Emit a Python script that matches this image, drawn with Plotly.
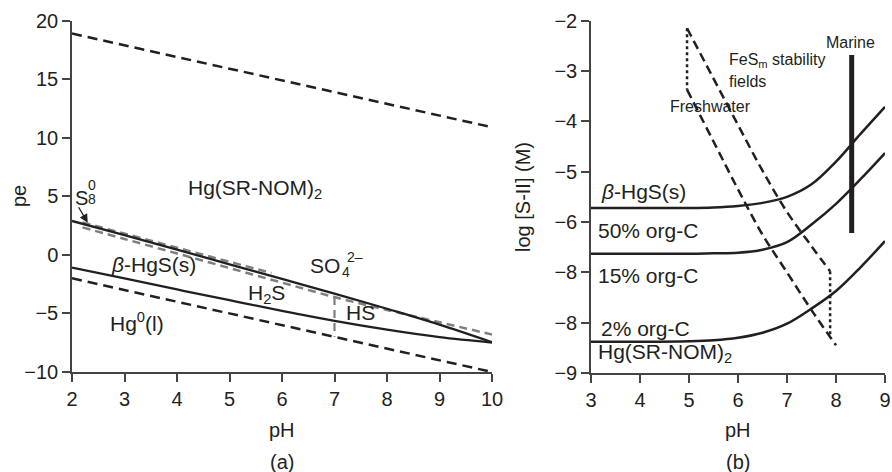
import plotly.graph_objects as go

# ---------------- Panel (a): pe-pH diagram ----------------
ph_water = [2, 10]
pe_water_upper = [18.9, 10.9]
pe_water_lower = [-2.0, -10.0]

ph_so4 = [2, 3, 4, 5, 6, 7, 8, 9, 10]
pe_so4 = [2.9, 1.68, 0.45, -0.8, -2.05, -3.3, -4.6, -5.95, -7.45]

ph_hgs = [2, 3, 4, 5, 6, 7, 8, 9, 10]
pe_hgs = [-1.08, -2.0, -2.95, -3.87, -4.78, -5.63, -6.38, -7.02, -7.48]

ph_gray_low = [2.2, 3, 4, 5, 6, 7, 8, 9, 10]
pe_gray_low = [2.35, 1.36, 0.12, -1.12, -2.37, -3.6, -4.7, -5.75, -6.8]

ph_gray_up = [2.2, 3, 4, 5, 5.8]
pe_gray_up = [2.78, 1.82, 0.6, -0.62, -1.55]

ph_h2s_hs = [7, 7]
pe_h2s_hs = [-3.6, -7.0]

# ---------------- Panel (b): log[S-II] vs pH ----------------
ph_b = [3, 4, 5, 5.5, 6, 6.5, 7, 7.5, 8, 8.5, 9]
log_hgs = [-5.72, -5.72, -5.72, -5.71, -5.68, -5.62, -5.5, -5.25, -4.8, -4.25, -3.71]
log_50 = [-6.63, -6.63, -6.63, -6.62, -6.61, -6.55, -6.4, -6.05, -5.64, -5.15, -4.63]
log_2 = [-8.38, -8.38, -8.37, -8.35, -8.3, -8.2, -8.02, -7.72, -7.37, -6.9, -6.38]

ph_fresh_dot = [4.96, 4.96]
log_fresh_dot = [-2.15, -3.37]
ph_fresh = [4.96, 5.5, 6.0, 6.5, 7.0, 7.5, 8.0]
log_fresh = [-3.37, -4.4, -5.35, -6.25, -7.0, -7.75, -8.45]

ph_fes = [4.96, 5.5, 6.0, 6.5, 7.0, 7.5, 7.88]
log_fes = [-2.15, -3.15, -4.07, -4.98, -5.8, -6.48, -6.98]
ph_fes_dot = [7.88, 7.88]
log_fes_dot = [-6.98, -8.3]

ph_marine = [8.32, 8.32]
log_marine = [-2.68, -6.22]

tick_a_x = [2, 3, 4, 5, 6, 7, 8, 9, 10]
tick_a_y = [-10, -5, 0, 5, 10, 15, 20]
tick_b_x = [3, 4, 5, 6, 7, 8, 9]
tick_b_y = [-9, -8, -7, -6, -5, -4, -3, -2]
tick_b_ytext = ["\u22129", "\u22128", "\u22128", "\u22126", "\u22125", "\u22124", "\u22123", "\u22122"]

BLACK = "#231f20"
GRAY = "#7f7f7f"
FONT = "Liberation Sans, Arial, sans-serif"

fig = go.Figure()


def add(x, y, xa, ya, color=BLACK, width=2.3, dash="solid", shape="linear"):
    fig.add_trace(go.Scatter(x=x, y=y, xaxis=xa, yaxis=ya, mode="lines",
                             line=dict(color=color, width=width, dash=dash, shape=shape),
                             hoverinfo="skip", showlegend=False))


# panel a
add(ph_water, pe_water_upper, "x", "y", dash="10px,6px", width=2.5)
add(ph_water, pe_water_lower, "x", "y", dash="10px,6px", width=2.5)
add(ph_gray_up, pe_gray_up, "x", "y", color=GRAY, dash="8px,5px", width=2.5)
add(ph_gray_low, pe_gray_low, "x", "y", color=GRAY, dash="8px,5px", width=2.5, shape="spline")
add(ph_h2s_hs, pe_h2s_hs, "x", "y", color=GRAY, dash="8px,5px", width=2.2)
add(ph_so4, pe_so4, "x", "y", shape="spline")
add(ph_hgs, pe_hgs, "x", "y", shape="spline")

# panel b
add(ph_b, log_hgs, "x2", "y2", shape="spline", width=2.5)
add(ph_b, log_50, "x2", "y2", shape="spline", width=2.5)
add(ph_b, log_2, "x2", "y2", shape="spline", width=2.5)
add(ph_fresh_dot, log_fresh_dot, "x2", "y2", dash="3px,3px", width=2.5)
add(ph_fresh, log_fresh, "x2", "y2", dash="9px,5px", width=2.5, shape="spline")
add(ph_fes, log_fes, "x2", "y2", dash="9px,5px", width=2.5, shape="spline")
add(ph_fes_dot, log_fes_dot, "x2", "y2", dash="3px,3px", width=2.5)
add(ph_marine, log_marine, "x2", "y2", width=5)

axis_common = dict(showline=True, linecolor="#444", linewidth=1.5, ticks="outside",
                   ticklen=8, tickwidth=1.5, tickcolor="#444", showgrid=False,
                   zeroline=False, tickfont=dict(family=FONT, size=20, color=BLACK),
                   fixedrange=True, automargin=False)

fig.update_layout(
    width=892, height=472, margin=dict(l=0, r=0, t=0, b=0, autoexpand=False),
    paper_bgcolor="white", plot_bgcolor="white",
    xaxis=dict(domain=[72 / 892, 492 / 892], range=[2, 10], tickvals=tick_a_x,
               anchor="y", **axis_common),
    yaxis=dict(domain=[1 - 372 / 472, 1 - 20.7 / 472], range=[-10, 20], tickvals=tick_a_y,
               anchor="x", **axis_common),
    xaxis2=dict(domain=[591 / 892, 885 / 892], range=[3, 9], tickvals=tick_b_x,
                anchor="y2", **axis_common),
    yaxis2=dict(domain=[1 - 373 / 472, 1 - 20.7 / 472], range=[-9, -2], tickvals=tick_b_y,
                ticktext=tick_b_ytext, anchor="x2", **axis_common),
)


def label(text, x, y, xref, yref, size=20, xanchor="center", yanchor="middle", angle=0):
    fig.add_annotation(text=text, x=x, y=y, xref=xref, yref=yref, showarrow=False,
                       xanchor=xanchor, yanchor=yanchor, textangle=angle,
                       font=dict(family=FONT, size=size, color=BLACK))


# panel a labels
label("Hg(SR-NOM)<sub>2</sub>", 5.49, 5.6, "x", "y", size=21)
label("S", 2.02, 4.9, "x", "y", size=20, xanchor="left")
label("0", 2.26, 6.0, "x", "y", size=14, xanchor="left")
label("8", 2.26, 4.8, "x", "y", size=14, xanchor="left")
label("<i>\u03b2</i>-HgS(s)", 3.55, -0.85, "x", "y", size=21)
label("SO", 6.82, -0.9, "x", "y", size=21)
label("4", 7.1, -1.45, "x", "y", size=14, xanchor="left")
label("2\u2013", 7.2, -0.2, "x", "y", size=14, xanchor="left")
label("H<sub>2</sub>S", 5.71, -3.3, "x", "y", size=21)
label("HS", 7.49, -4.95, "x", "y", size=21)
label("Hg<sup>0</sup>(l)", 3.24, -5.7, "x", "y", size=21)
fig.add_annotation(x=2.3, y=2.75, ax=2.11, ay=4.2, xref="x", yref="y", axref="x", ayref="y",
                   text="", showarrow=True, arrowhead=2, arrowsize=1.3, arrowwidth=1.3,
                   arrowcolor=BLACK)

# panel b labels
label("Marine", 8.3, -2.44, "x2", "y2", size=16)
label("FeS<sub>m</sub> stability", 5.77, -2.8, "x2", "y2", size=16, xanchor="left")
label("fields", 5.77, -3.2, "x2", "y2", size=16, xanchor="left")
label("Freshwater", 4.57, -3.7, "x2", "y2", size=16, xanchor="left")
label("<i>\u03b2</i>-HgS(s)", 3.16, -5.4, "x2", "y2", size=21, xanchor="left")
label("50% org-C", 3.1, -6.17, "x2", "y2", size=21, xanchor="left")
label("15% org-C", 3.1, -7.06, "x2", "y2", size=21, xanchor="left")
label("2% org-C", 3.16, -8.12, "x2", "y2", size=21, xanchor="left")
label("Hg(SR-NOM)<sub>2</sub>", 3.1, -8.6, "x2", "y2", size=21, xanchor="left")

# axis titles & panel letters
label("pH", 282 / 892, 1 - 430 / 472, "paper", "paper", size=20)
label("(a)", 282 / 892, 1 - 462 / 472, "paper", "paper", size=20)
label("pH", 738 / 892, 1 - 430 / 472, "paper", "paper", size=20)
label("(b)", 738 / 892, 1 - 462 / 472, "paper", "paper", size=20)
label("pe", 19 / 892, 1 - 196 / 472, "paper", "paper", size=20, angle=-90)
label("log [S-II] (M)", 523 / 892, 1 - 197 / 472, "paper", "paper", size=20, angle=-90)

fig.write_html("out.html")
